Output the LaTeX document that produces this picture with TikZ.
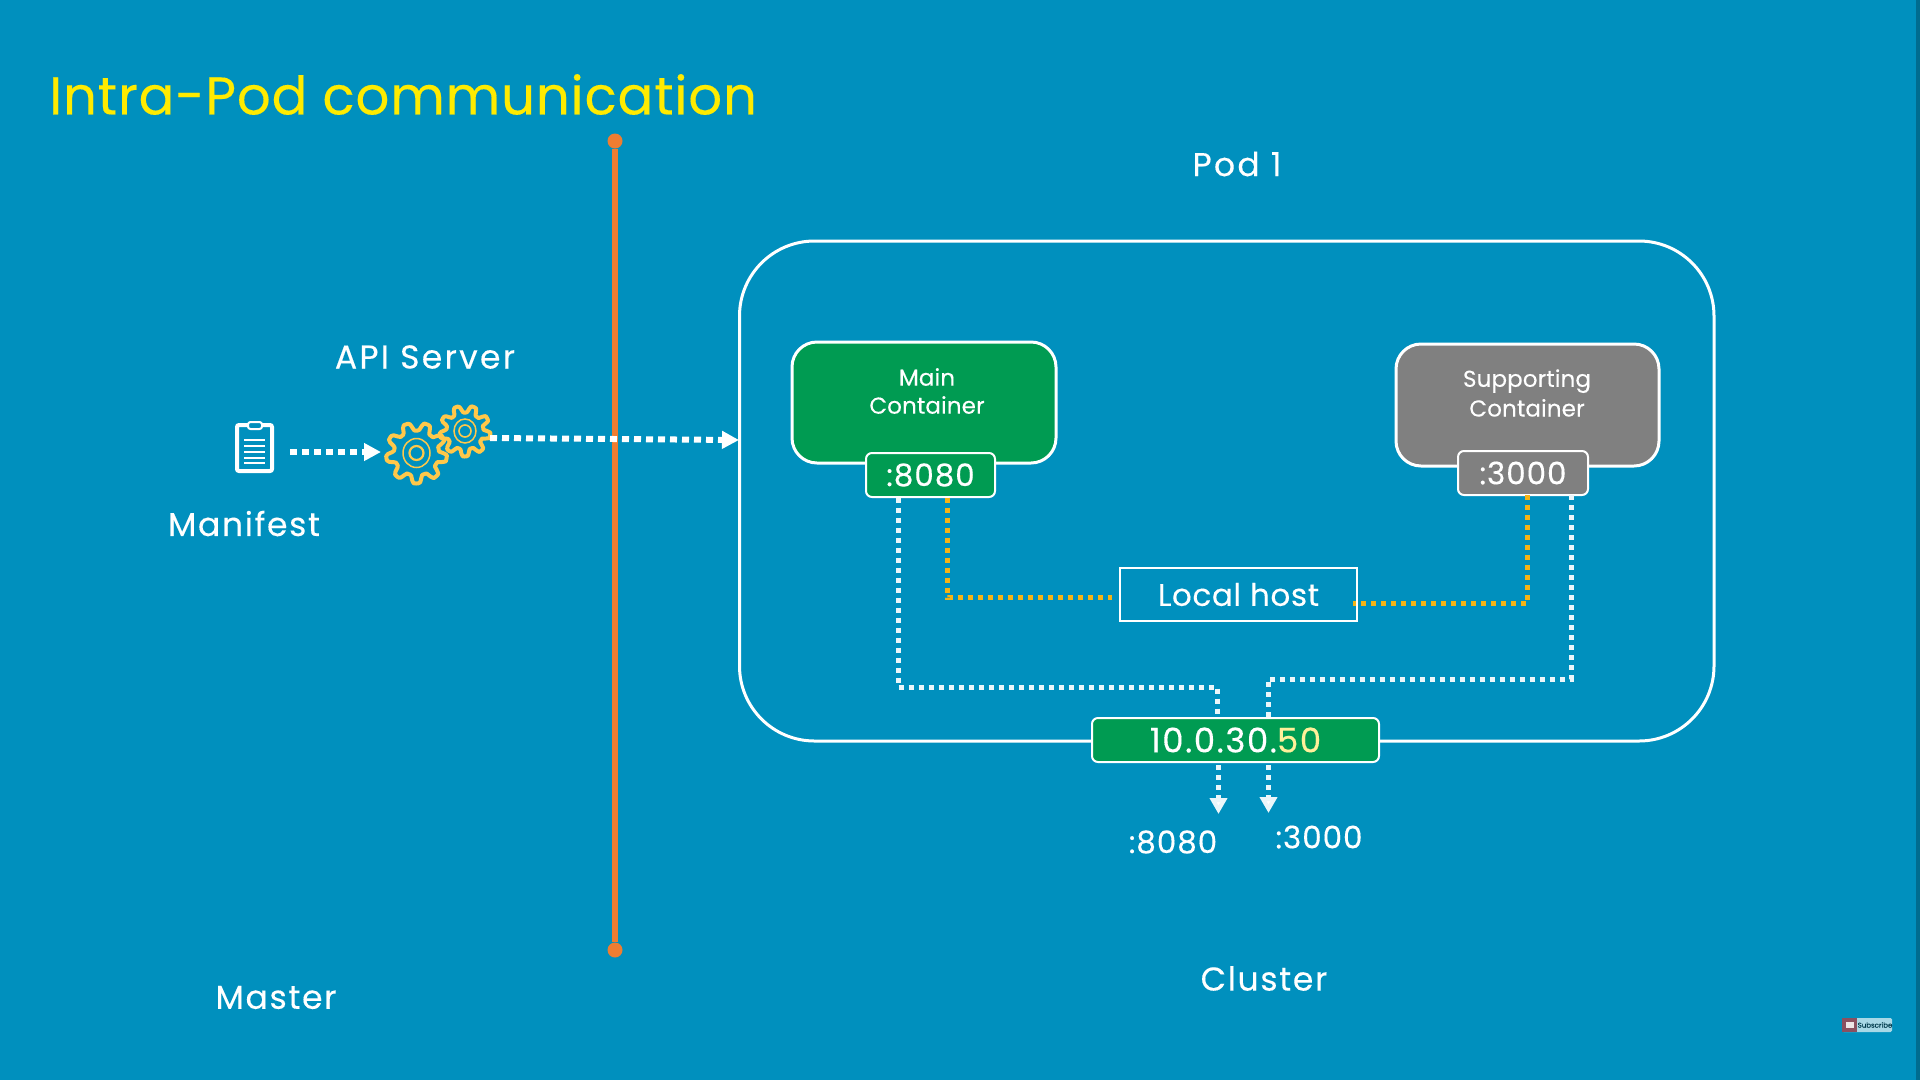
\documentclass[tikz,border=0pt]{standalone}
\usepackage{fontspec}
\setmainfont[FakeBold=0.25]{Poppins}
\usetikzlibrary{arrows.meta,calc}
\definecolor{bgblue}{HTML}{0090BE}
\definecolor{podgreen}{HTML}{009B52}
\definecolor{suppgray}{HTML}{808080}
\definecolor{titleyellow}{HTML}{FFEB00}
\definecolor{lineorange}{HTML}{EE7D31}
\definecolor{dotorange}{HTML}{F5B415}
\definecolor{gearyellow}{HTML}{FFC84A}
\definecolor{ipyellow}{HTML}{FFF09A}
\definecolor{badgered}{HTML}{8A5060}
\definecolor{badgeblue}{HTML}{A8D8E6}
\newcommand{\gearshape}[5]{% cx cy outer inner teeth
  \draw[gearline] plot[smooth cycle,samples=#5*10+1,domain=0:360-360/(#5*10)] ({#1+(#4+(#3-#4)*(0.5+0.5*max(-1,min(1,1.7*sin(#5*\x)))))*cos(\x)},{#2+(#4+(#3-#4)*(0.5+0.5*max(-1,min(1,1.7*sin(#5*\x)))))*sin(\x)});
}
\newcommand{\ftset}[2]{\fontsize{#1}{#1}\selectfont\addfontfeature{LetterSpace=#2}}
\tikzset{
  x=1pt,y=1pt,
  lbl/.style={text=white,inner sep=0pt,align=center,font=\ftset{33}{5}},
  widelbl/.style={text=white,inner sep=0pt,align=center,font=\ftset{33}{7}},
  smalllbl/.style={text=white,inner sep=0pt,align=center,font=\ftset{23}{0.5}},
  portlbl/.style={text=white,inner sep=0pt,font=\ftset{31}{3}},
  podbox/.style={draw=white,line width=3pt,rounded corners=75pt},
  bigbox/.style={draw=white,line width=3pt,rounded corners=25pt,inner sep=0pt},
  tagbox/.style={draw=white,line width=2pt,rounded corners=6pt,inner sep=0pt,text=white,font=\ftset{31}{3}},
  whitedots/.style={draw=white!92!bgblue,line width=5pt,dash pattern=on 5pt off 5pt},
  orangedots/.style={draw=dotorange,line width=5pt,dash pattern=on 5pt off 5pt},
  bigdots/.style={draw=white,line width=6pt,dash pattern=on 7pt off 5pt},
  arrowdots/.style={whitedots,-{Triangle[length=16pt,width=17pt,fill=white]}},
  gearline/.style={draw=gearyellow,line width=4pt,line join=round},
  gearring/.style={draw=gearyellow,line width=1.5pt},
}
\begin{document}
\begin{tikzpicture}[yscale=-1]
\useasboundingbox (0,0) rectangle (1920,1080);
\fill[bgblue] (0,0) rectangle (1920,1080);
\fill[black!25!bgblue] (1916,0) rectangle (1920,1080);

\node[anchor=west,text=titleyellow,inner sep=0pt,font=\ftset{53}{1.6}] (title) at (49,94.5) {Intra-Pod communication};

% orange divider
\node[circle,fill=lineorange,minimum size=15pt,inner sep=0pt] (divtop) at (615,141) {};
\node[circle,fill=lineorange,minimum size=15pt,inner sep=0pt] (divbot) at (615,950) {};
\draw[lineorange,line width=6pt] (divtop) -- (divbot);

% pod
\draw[podbox] (739.5,241) rectangle (1714,741);
\node[widelbl] (podlabel) at (1237,164) {Pod 1};

% containers
\node[bigbox,fill=podgreen,minimum width=264pt,minimum height=121pt] (main) at (924,402.5) {};
\node[smalllbl,anchor=center] (maintext) at (927,391) {Main\\[5pt]Container};
\node[bigbox,fill=suppgray,minimum width=263pt,minimum height=122pt] (supp) at (1527.5,405) {};
\node[smalllbl,anchor=center] (supptext) at (1527,393) {Supporting\\[5pt]Container};
\node[tagbox,fill=podgreen,minimum width=129pt,minimum height=44pt] (p8080) at (930.5,475) {:8080};
\node[tagbox,fill=suppgray,minimum width=130pt,minimum height=44pt] (p3000) at (1523,473) {:3000};

% local host and ip
\node[draw=white,line width=2pt,inner sep=0pt,minimum width=237pt,minimum height=53pt,text=white,font=\ftset{31}{2}] (local) at (1238.5,594.5) {Local host};
\node[draw=white,line width=2pt,rounded corners=6pt,fill=podgreen,inner sep=0pt,minimum width=287pt,minimum height=44pt,text=white,font=\ftset{34}{4.5}] (ip) at (1235.5,740) {10.0.30.\textcolor{ipyellow}{50}};

% connectors inside the pod
\coordinate (a1) at (898,497.5);
\coordinate (a2) at (898,687);
\coordinate (a3) at (1217,687);
\coordinate (a4) at (1217,718);
\draw[whitedots] (a1) -- (a2) -- (a3) -- (a4);
\coordinate (b1) at (1571,495);
\coordinate (b2) at (1571,679);
\coordinate (b3) at (1268,679);
\coordinate (b4) at (1268,718);
\draw[whitedots] (b1) -- (b2) -- (b3) -- (b4);
\coordinate (c1) at (947.5,497.5);
\coordinate (c2) at (947.5,597.5);
\coordinate (c3) at (1112,597.5);
\draw[orangedots] (c1) -- (c2) -- (c3);
\coordinate (d1) at (1527.5,495);
\coordinate (d2) at (1527.5,603.5);
\coordinate (d3) at (1353,603.5);
\draw[orangedots] (d1) -- (d2) -- (d3);

% ip outputs
\coordinate (e1) at (1218.5,765);
\coordinate (e2) at (1218.5,814);
\coordinate (f1) at (1268.5,765);
\coordinate (f2) at (1268.5,813);
\draw[arrowdots] (e1) -- (e2);
\draw[arrowdots] (f1) -- (f2);
\node[portlbl] (l8080) at (1173,842) {:8080};
\node[portlbl] (l3000) at (1319,837) {:3000};

% labels
\node[widelbl] (api) at (425,357) {API Server};
\node[lbl] (manifest) at (244,523.5) {Manifest};
\node[lbl] (master) at (276,997.5) {Master};
\node[lbl] (cluster) at (1264,978.5) {Cluster};

% clipboard
\draw[white,line width=4pt,rounded corners=2pt] (237,425) rectangle (272,471);
\draw[white,line width=2pt,fill=bgblue,rounded corners=2.5pt] (248,422) rectangle (262,429);
\foreach \yy in {440,446,452,458,463}{\draw[white,line width=1.8pt] (244,\yy) -- (265,\yy);}
\coordinate (clip) at (290,452);
\coordinate (gearin) at (381,452);
\draw[draw=white,line width=5.5pt,dash pattern=on 7pt off 5pt,-{Triangle[length=17pt,width=17pt,fill=white]}] (clip) -- (gearin);

% gears
\gearshape{416.5}{453}{30.5}{22.5}{9}
\draw[gearring] (416.5,453) ellipse (13.5 and 14.5);
\draw[gearline,line width=2.2pt] (416.5,453) circle (7);
\gearshape{465}{431}{25.5}{18.5}{9}
\draw[gearring] (465,431) ellipse (11 and 12);
\draw[gearline,line width=1.6pt] (465,431) circle (6);

% long arrow
\coordinate (g1) at (490,438);
\coordinate (pod) at (739,440);
\draw[bigdots,-{Triangle[length=17pt,width=17pt,fill=white]}] (g1) -- (pod);

% subscribe badge
\fill[badgeblue,rounded corners=1.5pt] (1842,1018) rectangle (1892,1032);
\fill[badgered] (1842,1018) rectangle (1857,1032);
\fill[white!85!badgered] (1846,1022) rectangle (1854,1028);
\node[inner sep=0pt,text=black!60!bgblue,font=\ftset{7}{0}] (sub) at (1875,1025) {Subscribe};
\end{tikzpicture}
\end{document}
